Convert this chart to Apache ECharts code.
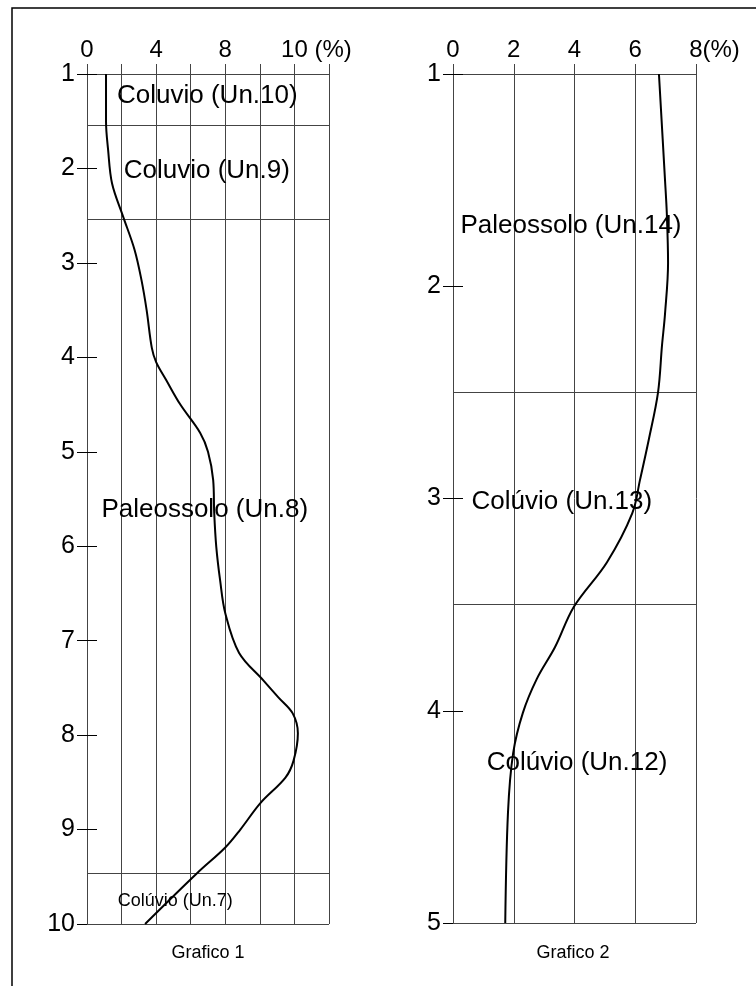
<!DOCTYPE html>
<html>
<head>
<meta charset="utf-8">
<script src="https://cdn.jsdelivr.net/npm/echarts@6/dist/echarts.min.js"></script>
<style>
html,body{margin:0;padding:0;background:#fff;}
#chart{width:756px;height:986px;}
</style>
</head>
<body>
<div id="chart"></div>
<script>
// ---------- Grafico 1 ----------
const depth1 = [1.0, 1.5, 1.8, 2.16, 2.51, 2.86, 3.18, 3.5, 3.9, 4.05, 4.24, 4.5, 4.8, 5.0, 5.3, 5.65, 6.01, 6.36, 6.71, 7.13, 7.42, 7.6, 7.77, 7.98, 8.27, 8.45, 8.72, 9.0, 9.19, 9.46, 10.0];
const value1 = [1.1, 1.1, 1.22, 1.45, 2.09, 2.75, 3.15, 3.45, 3.75, 4.0, 4.58, 5.4, 6.55, 7.0, 7.3, 7.36, 7.48, 7.7, 8.0, 8.8, 10.2, 11.07, 11.9, 12.2, 11.95, 11.48, 10.03, 8.87, 8.0, 6.38, 3.36];
const xTickValues1 = [0, 4, 8, 12];
const xTickLabels1 = ['0', '4', '8', '10 (%)'];
const boundaries1 = [1.54, 2.54, 9.46, 10];
const unitNames1 = ['Coluvio (Un.10)', 'Coluvio (Un.9)', 'Paleossolo (Un.8)', 'Colúvio (Un.7)'];
const unitX1 = [6.99, 6.96, 6.84, 5.13];
const unitDepth1 = [1.24, 2.03, 5.62, 9.76];

// ---------- Grafico 2 ----------
const depth2 = [1.0, 1.5, 1.66, 1.89, 2.13, 2.28, 2.5, 2.72, 2.91, 3.07, 3.30, 3.51, 3.70, 3.85, 4.01, 4.2, 4.48, 5.0];
const value2 = [6.78, 6.98, 7.04, 7.08, 6.98, 6.88, 6.75, 6.45, 6.16, 5.9, 5.07, 3.98, 3.36, 2.76, 2.3, 1.98, 1.81, 1.72];
const xTickValues2 = [0, 2, 4, 6, 8];
const xTickLabels2 = ['0', '2', '4', '6', '8(%)'];
const boundaries2 = [2.5, 3.5, 5];
const unitNames2 = ['Paleossolo (Un.14)', 'Colúvio (Un.13)', 'Colúvio (Un.12)'];
const unitX2 = [3.9, 3.6, 4.1];
const unitDepth2 = [1.72, 3.02, 4.25];

const chartTitles = ['Grafico 1', 'Grafico 2'];

const FONT = '"Liberation Sans", Arial, Helvetica, sans-serif';
const INK = '#000';
const GRID = '#444';

function xLabelFormatter(vals, labels) {
  return function (v) {
    const i = vals.indexOf(v);
    if (i < 0) return '';
    const t = labels[i];
    const m = t.match(/^(\d+)(.*)$/);
    if (m && m[2]) return '{sp|}' + t; // keep the number centred on its tick
    return t;
  };
}

function makeX(gridIndex, max, vals, labels, spacer) {
  return {
    type: 'value', gridIndex: gridIndex, position: 'top',
    min: 0, max: max, interval: 2,
    axisLine: { show: true, lineStyle: { color: GRID, width: 1 } },
    axisTick: { show: true, inside: false, length: 10, lineStyle: { color: GRID, width: 1 } },
    splitLine: { show: true, showMinLine: true, showMaxLine: true, lineStyle: { color: GRID, width: 1 } },
    axisLabel: {
      show: true, margin: 12, color: INK, fontSize: 24, fontFamily: FONT,
      showMinLabel: true, showMaxLabel: true, hideOverlap: false,
      formatter: xLabelFormatter(vals, labels),
      rich: { sp: { width: spacer, fontSize: 24 } }
    }
  };
}

function makeY(gridIndex, min, max, inside) {
  return {
    type: 'value', gridIndex: gridIndex, position: 'left', offset: 0,
    min: min, max: max, interval: 1, inverse: true,
    axisLine: { show: !inside, lineStyle: { color: GRID, width: 1 } },
    axisTick: { show: true, inside: inside, length: 10, lineStyle: { color: INK, width: 1 } },
    splitLine: { show: false },
    axisLabel: {
      show: !inside, margin: 12, color: INK, fontSize: 25, fontFamily: FONT,
      showMinLabel: true, showMaxLabel: true
    }
  };
}

function profile(xIdx, yIdx, vals, depths, bounds) {
  return {
    type: 'line', xAxisIndex: xIdx, yAxisIndex: yIdx,
    data: depths.map((d, i) => [vals[i], d]),
    smooth: 0.35, showSymbol: false, symbol: 'none',
    lineStyle: { color: '#000', width: 2 },
    silent: true, z: 5,
    markLine: {
      silent: true, symbol: ['none', 'none'], animation: false,
      label: { show: false },
      lineStyle: { color: GRID, width: 1, type: 'solid' },
      data: bounds.map(b => ({ yAxis: b }))
    }
  };
}

function units(xIdx, yIdx, names, xs, ds, sizes) {
  return {
    type: 'scatter', xAxisIndex: xIdx, yAxisIndex: yIdx,
    symbolSize: 1, silent: true, z: 6,
    itemStyle: { opacity: 0 },
    data: names.map((n, i) => ({ name: n, value: [xs[i], ds[i]],
      label: { fontSize: sizes[i] } })),
    label: {
      show: true, position: [0, 0], align: 'center', verticalAlign: 'middle',
      formatter: '{b}', opacity: 1,
      color: INK, fontFamily: FONT, fontSize: 26, fontWeight: 'normal'
    }
  };
}

const chart = echarts.init(document.getElementById('chart'), null, { renderer: 'canvas' });
chart.setOption({
  animation: false,
  backgroundColor: '#fff',
  grid: [
    { left: 87, top: 74, width: 242, height: 850, containLabel: false, outerBoundsMode: 'none' },
    { left: 453, top: 74, width: 243, height: 849, containLabel: false, outerBoundsMode: 'none' }
  ],
  xAxis: [
    makeX(0, 14, xTickValues1, xTickLabels1, 44),
    makeX(1, 8, xTickValues2, xTickLabels2, 37)
  ],
  yAxis: [
    makeY(0, 1, 10, false),
    makeY(0, 1, 10, true),
    makeY(1, 1, 5, false),
    makeY(1, 1, 5, true)
  ],
  series: [
    profile(0, 0, value1, depth1, boundaries1),
    profile(1, 2, value2, depth2, boundaries2),
    units(0, 0, unitNames1, unitX1, unitDepth1, [26, 26, 26, 18]),
    units(1, 2, unitNames2, unitX2, unitDepth2, [26, 26, 26])
  ],
  graphic: [
    { type: 'rect', shape: { x: 12, y: 8, width: 900, height: 1100 },
      style: { fill: 'none', stroke: INK, lineWidth: 1.5 }, silent: true },
    { type: 'text', x: 208, y: 953, silent: true,
      style: { text: chartTitles[0], fill: INK, font: '18px ' + FONT, textAlign: 'center', textVerticalAlign: 'middle' } },
    { type: 'text', x: 573, y: 953, silent: true,
      style: { text: chartTitles[1], fill: INK, font: '18px ' + FONT, textAlign: 'center', textVerticalAlign: 'middle' } }
  ]
});
</script>
</body>
</html>
